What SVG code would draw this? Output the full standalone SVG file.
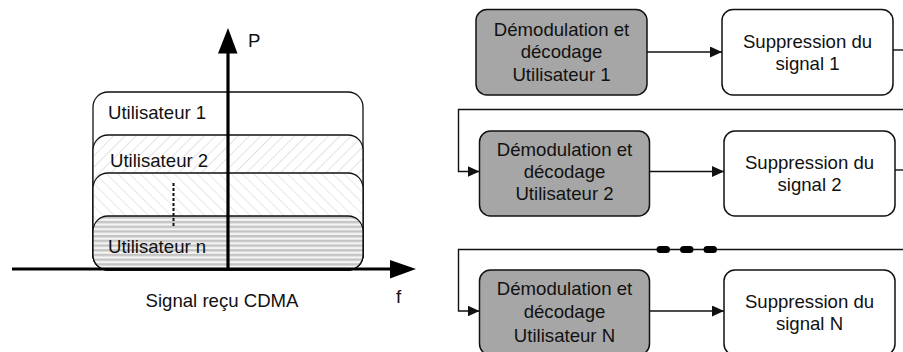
<svg xmlns="http://www.w3.org/2000/svg" width="903" height="352" viewBox="0 0 903 352">
<style>
text{font-family:"Liberation Sans",Arial,sans-serif;font-size:18.6px;fill:#111}
.c{text-anchor:middle}
.gbox{fill:#a6a6a6;stroke:#111;stroke-width:1.5}
.wbox{fill:#fff;stroke:#111;stroke-width:1.5}
.band{stroke:#111;stroke-width:1.3}
.ln{fill:none;stroke:#111;stroke-width:1.4}
</style>
<defs>
<pattern id="h1" width="8" height="8" patternUnits="userSpaceOnUse" patternTransform="rotate(45)">
<rect width="8" height="8" fill="#fff"/>
<line x1="0" y1="0" x2="0" y2="8" stroke="#c8c8c8" stroke-width="1"/>
</pattern>
<pattern id="h2" width="8" height="8" patternUnits="userSpaceOnUse" patternTransform="rotate(-45)">
<rect width="8" height="8" fill="#fff"/>
<line x1="0" y1="0" x2="0" y2="8" stroke="#cfcfcf" stroke-width="1"/>
</pattern>
<pattern id="h3" width="8" height="4.7" patternUnits="userSpaceOnUse">
<rect width="8" height="4.7" fill="#f4f4f4"/>
<rect y="0" width="8" height="2.4" fill="#c4c4c4"/>
</pattern>
<marker id="ah" markerUnits="userSpaceOnUse" markerWidth="13" markerHeight="11" refX="12" refY="5.5" orient="auto">
<path d="M0,0 L12,5.5 L0,11 Z" fill="#111"/>
</marker>
</defs>

<g id="spectrum">
<g id="user1"><rect class="band" x="93" y="92" width="270" height="178" rx="15" fill="#fff"/>
<text x="108" y="119">Utilisateur 1</text></g>
<g id="user2"><rect class="band" x="93" y="135" width="270" height="135" rx="15" fill="url(#h1)"/>
<text x="110" y="167">Utilisateur 2</text></g>
<g id="user3"><rect class="band" x="93" y="173" width="270" height="97" rx="15" fill="url(#h2)"/></g>
<g id="usern"><rect class="band" x="93" y="216" width="270" height="54" rx="15" fill="url(#h3)"/>
<text x="108" y="253">Utilisateur n</text></g>
<line x1="173.5" y1="183" x2="173.5" y2="228" stroke="#111" stroke-width="2" stroke-dasharray="3 2"/>
<g id="axes">
<line x1="228" y1="268" x2="228" y2="52" stroke="#000" stroke-width="3.2"/>
<path d="M218,53.5 L228,28 L237.5,53.5 Z" fill="#000"/>
<line x1="12" y1="269" x2="392" y2="269" stroke="#000" stroke-width="3.2"/>
<path d="M390,260 L416,269 L390,278.5 Z" fill="#000"/>
<text x="248" y="47">P</text>
<text x="396" y="303">f</text>
<text class="c" x="222" y="307">Signal reçu CDMA</text>
</g>
</g>

<g id="connectors">
<line class="ln" x1="647" y1="52" x2="722" y2="52" marker-end="url(#ah)"/>
<line class="ln" x1="650" y1="171.5" x2="724" y2="171.5" marker-end="url(#ah)"/>
<line class="ln" x1="650" y1="311" x2="724" y2="311" marker-end="url(#ah)"/>
<path class="ln" d="M893,50 H903"/>
<path class="ln" d="M895,170 H903"/>
<path class="ln" d="M903,109.5 H458.5 V171.5 H479.5" marker-end="url(#ah)"/>
<path class="ln" d="M903,249.5 H458.5 V311 H479.5" marker-end="url(#ah)"/>
<g stroke="#000" stroke-width="7" stroke-linecap="round">
<line x1="660" y1="249.5" x2="666.5" y2="249.5"/>
<line x1="683.5" y1="249.5" x2="690" y2="249.5"/>
<line x1="707" y1="249.5" x2="713.5" y2="249.5"/>
</g>
</g>

<g id="demod1"><rect class="gbox" x="476" y="9.5" width="171" height="85.5" rx="11"/>
<text class="c" x="561.5" y="36">Démodulation et</text>
<text class="c" x="561.5" y="58.3">décodage</text>
<text class="c" x="561.5" y="80.6">Utilisateur 1</text></g>
<g id="supp1"><rect class="wbox" x="722" y="9.5" width="171" height="85.5" rx="11"/>
<text class="c" x="807.5" y="48">Suppression du</text>
<text class="c" x="807.5" y="70">signal 1</text></g>

<g id="demod2"><rect class="gbox" x="479.5" y="131" width="170" height="85" rx="11"/>
<text class="c" x="564.5" y="155.5">Démodulation et</text>
<text class="c" x="564.5" y="177.8">décodage</text>
<text class="c" x="564.5" y="200">Utilisateur 2</text></g>
<g id="supp2"><rect class="wbox" x="724" y="131" width="171" height="85" rx="11"/>
<text class="c" x="809.5" y="168.5">Suppression du</text>
<text class="c" x="809.5" y="190.7">signal 2</text></g>

<g id="demodN"><rect class="gbox" x="479.5" y="270" width="170" height="85" rx="11"/>
<text class="c" x="564.5" y="295">Démodulation et</text>
<text class="c" x="564.5" y="318.3">décodage</text>
<text class="c" x="564.5" y="341.6">Utilisateur N</text></g>
<g id="suppN"><rect class="wbox" x="724" y="270" width="171" height="85" rx="11"/>
<text class="c" x="809.5" y="307.5">Suppression du</text>
<text class="c" x="809.5" y="330">signal N</text></g>
</svg>
